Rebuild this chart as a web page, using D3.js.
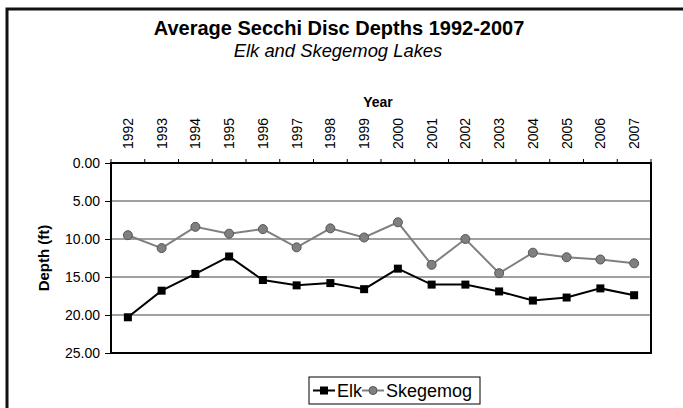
<!DOCTYPE html>
<html><head><meta charset="utf-8">
<script src="https://cdn.jsdelivr.net/npm/d3@7"></script>
<style>body{margin:0;background:#fff}svg{display:block}text{font-family:"Liberation Sans",Arial,sans-serif}</style>
</head><body><svg id="c" width="683" height="408"></svg>
<script>
const years = ["1992","1993","1994","1995","1996","1997","1998","1999","2000","2001","2002","2003","2004","2005","2006","2007"];
const elk = [20.3,16.8,14.6,12.3,15.4,16.1,15.8,16.6,13.9,16.0,16.0,16.9,18.1,17.7,16.5,17.4];
const skegemog = [9.5,11.2,8.4,9.3,8.7,11.1,8.6,9.8,7.8,13.4,10.0,14.5,11.8,12.4,12.7,13.2];
const yTicks = [0,5,10,15,20,25];

const FF = "Liberation Sans, Arial, sans-serif";
const svg = d3.select("#c");
svg.append("rect").attr("x",7).attr("y",9).attr("width",700).attr("height",420)
  .attr("fill","#fff").attr("stroke","#111").attr("stroke-width",3);

const L=111,R=651,T=163,B=353;
const x = d3.scaleBand().domain(years).range([L,R]);
const y = d3.scaleLinear().domain([0,25]).range([T,B]);

// gridlines
svg.append("g").selectAll("line").data(yTicks.filter(d=>d>0&&d<25)).join("line")
  .attr("x1",L).attr("x2",R).attr("y1",d=>y(d)).attr("y2",d=>y(d))
  .attr("stroke","#808080").attr("stroke-width",1.5);

// plot border
svg.append("rect").attr("x",L).attr("y",T).attr("width",R-L).attr("height",B-T)
  .attr("fill","none").attr("stroke","#000").attr("stroke-width",2);

// top axis
const xa = svg.append("g").attr("transform",`translate(0,${T})`)
  .call(d3.axisTop(x).tickSize(0).tickPadding(0));
xa.attr("font-size",null).attr("font-family",null);
xa.select(".domain").remove();
xa.selectAll("text").attr("transform","rotate(-90)").attr("x",14).attr("y",0).attr("dy","0.35em")
  .style("text-anchor","start").style("font-size","14px").attr("fill","#000").style("font-family",FF);
// category boundary ticks
svg.append("g").selectAll("line").data(years.concat(["end"])).join("line")
  .attr("x1",(d,i)=>L+i*x.step()).attr("x2",(d,i)=>L+i*x.step())
  .attr("y1",T).attr("y2",T-4).attr("stroke","#000").attr("stroke-width",1);

// left axis
const ya = svg.append("g").attr("transform",`translate(${L},0)`)
  .call(d3.axisLeft(y).tickValues(yTicks).tickFormat(d3.format(".2f")).tickSize(6).tickPadding(5));
ya.attr("font-size",null).attr("font-family",null);
ya.select(".domain").remove();
ya.selectAll("line").attr("stroke","#000");
ya.selectAll("text").style("font-size","14px").attr("fill","#000").style("font-family",FF);

// titles
svg.append("text").attr("x",339).attr("y",35).attr("text-anchor","middle")
  .attr("font-size",20).attr("font-weight","bold").text("Average Secchi Disc Depths 1992-2007");
svg.append("text").attr("x",338).attr("y",57).attr("text-anchor","middle")
  .attr("font-size",18.4).attr("font-style","italic").text("Elk and Skegemog Lakes");
svg.append("text").attr("x",378).attr("y",107).attr("text-anchor","middle")
  .attr("font-size",14).attr("font-weight","bold").text("Year");
svg.append("text").attr("transform",`translate(49,${(T+B)/2}) rotate(-90)`).attr("text-anchor","middle")
  .attr("font-size",15).attr("font-weight","bold").text("Depth (ft)");

const cx = d => x(d)+x.bandwidth()/2;
const line = d3.line().x((d,i)=>cx(years[i])).y(d=>y(d));

svg.append("path").datum(skegemog).attr("d",line).attr("fill","none").attr("stroke","#808080").attr("stroke-width",2);
svg.append("g").selectAll("circle").data(skegemog).join("circle")
  .attr("cx",(d,i)=>cx(years[i])).attr("cy",d=>y(d)).attr("r",4.5)
  .attr("fill","#808080").attr("stroke","#555").attr("stroke-width",1);

svg.append("path").datum(elk).attr("d",line).attr("fill","none").attr("stroke","#000").attr("stroke-width",2);
svg.append("g").selectAll("rect").data(elk).join("rect")
  .attr("x",(d,i)=>cx(years[i])-4).attr("y",d=>y(d)-4).attr("width",8).attr("height",8).attr("fill","#000");

// legend
const lg = svg.append("g");
lg.append("rect").attr("x",309).attr("y",377).attr("width",171).attr("height",27)
  .attr("fill","#fff").attr("stroke","#000").attr("stroke-width",1);
lg.append("line").attr("x1",313).attr("x2",335).attr("y1",390.5).attr("y2",390.5).attr("stroke","#000").attr("stroke-width",2);
lg.append("rect").attr("x",320).attr("y",386.5).attr("width",8).attr("height",8).attr("fill","#000");
lg.append("text").attr("x",337).attr("y",397).attr("font-size",18).text("Elk");
lg.append("line").attr("x1",362).attr("x2",384).attr("y1",390.5).attr("y2",390.5).attr("stroke","#808080").attr("stroke-width",2);
lg.append("circle").attr("cx",373).attr("cy",390.5).attr("r",4).attr("fill","#808080").attr("stroke","#555");
lg.append("text").attr("x",386).attr("y",397).attr("font-size",18).text("Skegemog");
</script></body></html>
